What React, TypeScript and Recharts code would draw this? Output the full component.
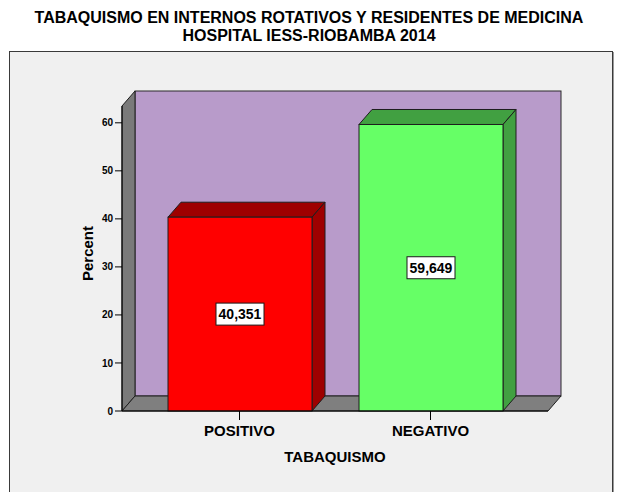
import React from 'react';
import { BarChart, Bar, XAxis, YAxis, ReferenceArea, Cell, LabelList, Label } from 'recharts';

const categories = ['POSITIVO', 'NEGATIVO'];
const percentValues = [40.351, 59.649];
const yTicks = [0, 10, 20, 30, 40, 50, 60];
const yDomainMax = 63.5;
const barColors = ['#ff0000', '#66ff66'];
const barSideColors = ['#9e0000', '#41a041'];

const data = categories.map((name, i) => ({ name, value: percentValues[i] }));

const DX = 13;
const DY = 15;
const FONT = '"Liberation Sans", Arial, sans-serif';

const Walls = (props: any) => {
  const { x, y, width, height } = props;
  const bottom = y + height;
  const right = x + width;
  return (
    <g>
      <rect x={x + DX} y={y - DY} width={width} height={height} fill="#b89bca" stroke="#2a2a2a" strokeWidth={1} />
      <polygon
        points={`${x},${y} ${x + DX},${y - DY} ${x + DX},${bottom - DY} ${x},${bottom}`}
        fill="#7a7a7a"
        stroke="#1e1e1e"
        strokeWidth={1}
      />
      <polygon
        points={`${x},${bottom} ${x + DX},${bottom - DY} ${right + DX},${bottom - DY} ${right},${bottom}`}
        fill="#7f7f7f"
        stroke="#1e1e1e"
        strokeWidth={1}
      />
    </g>
  );
};

const Bar3D = (props: any) => {
  const { x, y, width, height, fill, index } = props;
  const side = barSideColors[index % barSideColors.length];
  const bottom = y + height;
  const right = x + width;
  return (
    <g>
      <polygon
        points={`${x},${y} ${x + DX},${y - DY} ${right + DX},${y - DY} ${right},${y}`}
        fill={side}
        stroke="#1e1e1e"
        strokeWidth={1}
      />
      <polygon
        points={`${right},${y} ${right + DX},${y - DY} ${right + DX},${bottom - DY} ${right},${bottom}`}
        fill={side}
        stroke="#1e1e1e"
        strokeWidth={1}
      />
      <rect x={x} y={y} width={width} height={height} fill={fill} stroke="#1e1e1e" strokeWidth={1} />
    </g>
  );
};

const ValueLabel = (props: any) => {
  const { x, y, width, height, value } = props;
  const cx = x + width / 2;
  const cy = y + height / 2;
  const text = Number(value).toFixed(3).replace('.', ',');
  const w = 48;
  const h = 22;
  return (
    <g>
      <rect x={cx - w / 2} y={cy - h / 2} width={w} height={h} fill="#ffffff" stroke="#1a1a1a" strokeWidth={1} />
      <text
        x={cx}
        y={cy}
        textAnchor="middle"
        dominantBaseline="central"
        fontFamily={FONT}
        fontWeight="bold"
        fontSize={14}
        fill="#000"
      >
        {text}
      </text>
    </g>
  );
};

const YTitle = (props: any) => {
  const vb = props.viewBox || { x: 0, y: 0, width: 0, height: 0 };
  const cx = vb.x + vb.width / 2;
  const cy = vb.y + vb.height / 2 - 5;
  return (
    <text
      x={cx}
      y={cy}
      transform={`rotate(-90, ${cx}, ${cy})`}
      textAnchor="middle"
      dominantBaseline="central"
      fontFamily={FONT}
      fontWeight="bold"
      fontSize={15}
      fill="#000"
    >
      Percent
    </text>
  );
};

export default function App() {
  return (
    <div style={{ position: 'absolute', left: 0, top: 0, width: 618, height: 492, background: '#ffffff', overflow: 'hidden' }}>
      <div
        style={{
          position: 'absolute',
          left: 9,
          top: 51,
          width: 602,
          height: 460,
          background: '#f0f0f0',
          border: '1px solid #3a3a3a',
          boxShadow: '1px 1px 0 #9a9a9a',
        }}
      />
      <div
        style={{
          position: 'absolute',
          left: 0,
          top: 9,
          width: 618,
          textAlign: 'center',
          fontFamily: FONT,
          fontWeight: 'bold',
          fontSize: 16,
          lineHeight: '18px',
          color: '#000',
        }}
      >
        TABAQUISMO EN INTERNOS ROTATIVOS Y RESIDENTES DE MEDICINA
        <br />
        HOSPITAL IESS-RIOBAMBA 2014
      </div>
      <div style={{ position: 'absolute', left: 0, top: 0 }}>
        <BarChart width={618} height={492} data={data} margin={{ top: 106, right: 70, bottom: 51, left: 52 }}>
          <XAxis xAxisId="frame" type="number" domain={[0, 1]} hide />
          <XAxis
            dataKey="name"
            padding={{ left: 22, right: 22 }}
            tickSize={9}
            tickMargin={5}
            tick={{ fontFamily: FONT, fontWeight: 'bold', fontSize: 15, fill: '#000' }}
            axisLine={{ stroke: '#000' }}
            tickLine={{ stroke: '#000' }}
            height={30}
          >
            <Label
              value="TABAQUISMO"
              position="bottom"
              offset={10}
              style={{ fontFamily: FONT, fontWeight: 'bold', fontSize: 15, fill: '#000' }}
            />
          </XAxis>
          <YAxis
            width={70}
            domain={[0, yDomainMax]}
            ticks={yTicks}
            tickSize={7}
            tickMargin={2}
            tick={{ fontFamily: FONT, fontWeight: 'bold', fontSize: 10, fill: '#000' }}
            axisLine={{ stroke: '#000' }}
            tickLine={{ stroke: '#000' }}
          >
            <Label content={<YTitle />} />
          </YAxis>
          <ReferenceArea xAxisId="frame" x1={0} x2={1} y1={0} y2={yDomainMax} shape={<Walls />} ifOverflow="visible" />
          <Bar dataKey="value" barSize={144} shape={<Bar3D />} isAnimationActive={false}>
            {data.map((d, i) => (
              <Cell key={d.name} fill={barColors[i]} />
            ))}
            <LabelList dataKey="value" content={<ValueLabel />} />
          </Bar>
        </BarChart>
      </div>
    </div>
  );
}
